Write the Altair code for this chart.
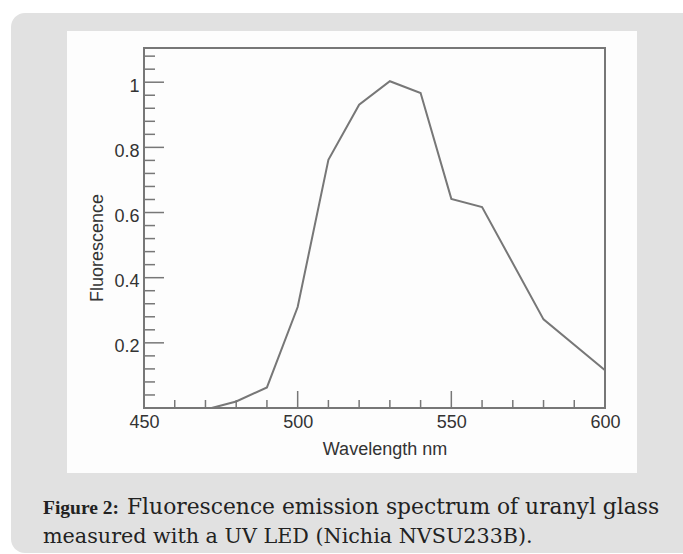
import altair as alt
import pandas as pd

# ---- data ----
wavelength = [472, 480, 490, 500, 510, 520, 530, 540, 550, 560, 580, 600]
fluorescence = [0.0, 0.02, 0.063, 0.31, 0.762, 0.931, 1.003, 0.967, 0.642, 0.617, 0.272, 0.116]

x_labels = [450, 500, 550, 600]
y_labels = [0.2, 0.4, 0.6, 0.8, 1.0]
x_major_ticks = [500, 550]
x_minor_ticks = [460, 470, 480, 490, 510, 520, 530, 540, 560, 570, 580, 590]
y_major_ticks = [0.2, 0.4, 0.6, 0.8, 1.0]
y_minor_ticks = [0.04, 0.08, 0.12, 0.16, 0.24, 0.28, 0.32, 0.36, 0.44, 0.48, 0.52, 0.56,
                 0.64, 0.68, 0.72, 0.76, 0.84, 0.88, 0.92, 0.96, 1.04, 1.08]

x_title = "Wavelength nm"
y_title = "Fluorescence"
caption_bold = "Figure 2:"
caption_line1 = "Fluorescence emission spectrum of uranyl glass"
caption_line2 = "measured with a UV LED (Nichia NVSU233B)."

W, H = 461, 360
AXIS_COLOR = "#777777"
TEXT_COLOR = "#333333"
SANS = "Liberation Sans"
SERIF = "DejaVu Serif"
SERIF_BOLD = "Liberation Serif"

xs = alt.Scale(domain=[450, 600], nice=False, zero=False)
ys = alt.Scale(domain=[0, 1.105], nice=False, zero=False)

one = pd.DataFrame({"k": [0]})

gray_box = alt.Chart(one).mark_rect(color="#e1e1e1", cornerRadius=14).encode(
    x=alt.value(-133), x2=alt.value(580), y=alt.value(-35), y2=alt.value(505)
)
white_box = alt.Chart(one).mark_rect(color="#fdfdfd").encode(
    x=alt.value(-77), x2=alt.value(493), y=alt.value(-17), y2=alt.value(425)
)
frame = alt.Chart(one).mark_rect(fillOpacity=0, stroke=AXIS_COLOR, strokeWidth=2).encode(
    x=alt.value(0), x2=alt.value(W), y=alt.value(0), y2=alt.value(H)
)

spec = pd.DataFrame({"wavelength": wavelength, "fluorescence": fluorescence})
line = alt.Chart(spec).mark_line(color=AXIS_COLOR, strokeWidth=2).encode(
    x=alt.X("wavelength:Q", scale=xs,
            axis=alt.Axis(values=x_labels, title=None, domain=False, ticks=False,
                          tickSize=0, grid=False, labelPadding=5, labelFont=SANS,
                          labelFontSize=18, labelColor=TEXT_COLOR, zindex=2,
                          labelFlush=False)),
    y=alt.Y("fluorescence:Q", scale=ys,
            axis=alt.Axis(values=y_labels, format="~g", title=None, domain=False,
                          ticks=False, tickSize=0, grid=False, labelPadding=5,
                          labelFont=SANS, labelFontSize=18, labelColor=TEXT_COLOR,
                          labelOffset=4, zindex=2, labelFlush=False)),
)

def xticks(vals, length):
    return alt.Chart(pd.DataFrame({"v": vals})).mark_rule(
        color=AXIS_COLOR, strokeWidth=1.5).encode(
        x=alt.X("v:Q", scale=xs), y=alt.value(H), y2=alt.value(H - length))

def yticks(vals, length):
    return alt.Chart(pd.DataFrame({"v": vals})).mark_rule(
        color=AXIS_COLOR, strokeWidth=1.5).encode(
        y=alt.Y("v:Q", scale=ys), x=alt.value(0), x2=alt.value(length))

def label(text, x, y, font, size, weight="normal", angle=0, align="left",
          color=TEXT_COLOR):
    return alt.Chart(pd.DataFrame({"t": [text]})).mark_text(
        font=font, fontSize=size, fontWeight=weight, angle=angle, align=align,
        baseline="alphabetic", color=color).encode(
        text="t:N", x=alt.value(x), y=alt.value(y))

chart = alt.layer(
    gray_box,
    white_box,
    xticks(x_minor_ticks, 8),
    xticks(x_major_ticks, 17),
    yticks(y_minor_ticks, 11),
    yticks(y_major_ticks, 20),
    line,
    frame,
    label(x_title, 241, 407, SANS, 18, align="center"),
    label(y_title, -41, 200, SANS, 18, angle=270, align="center"),
    label(caption_bold, -101, 466, SERIF_BOLD, 19.5, weight="bold", color="#222222"),
    label(caption_line1, -17, 466, SERIF, 21.8, color="#222222"),
    label(caption_line2, -101, 495, SERIF, 20.7, color="#222222"),
).properties(
    width=W, height=H,
    padding={"left": 144, "top": 48, "right": 78, "bottom": 146},
    autosize=alt.AutoSizeParams(type="none"),
    background="white",
).configure_view(
    strokeWidth=0
)

chart.save("out.html", embed_options={"renderer": "svg", "actions": False})
